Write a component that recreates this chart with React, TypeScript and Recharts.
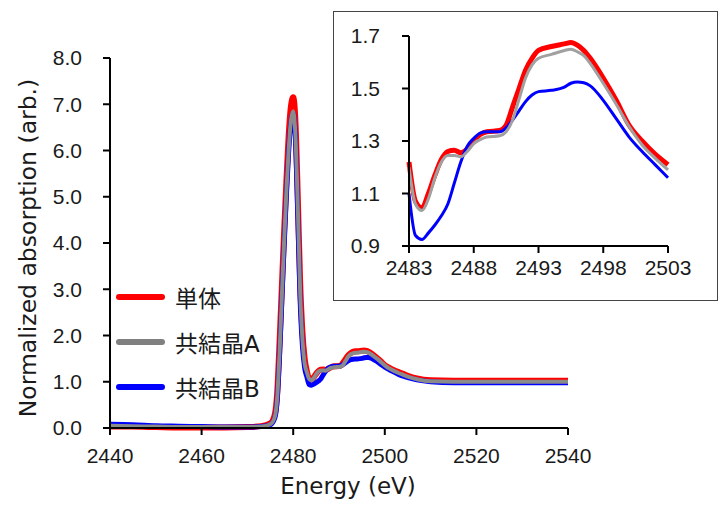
import { LineChart, Line, XAxis, YAxis } from 'recharts';

// energy grid (eV)
const energies = [
  2440, 2445, 2450, 2455, 2460, 2465, 2470, 2473, 2475,
  2476, 2476.5, 2477, 2477.5, 2478, 2478.5, 2479, 2479.5, 2480, 2480.5, 2481, 2481.5, 2482, 2482.5,
  2483, 2483.5, 2484, 2484.5, 2485, 2485.5, 2486, 2486.5, 2487, 2487.5, 2488, 2488.5, 2489,
  2490, 2490.5, 2491, 2491.5, 2492, 2492.5, 2493, 2494, 2495, 2495.5, 2496, 2496.5, 2497,
  2498, 2499, 2500, 2501, 2502, 2503, 2504, 2505, 2507, 2510,
  2515, 2520, 2525, 2530, 2535, 2540,
];

const tantai = [
  0.03, 0.03, 0.02, 0.01, 0.01, 0.01, 0.02, 0.04, 0.1,
  0.3, 0.75, 1.8, 3.0, 4.2, 5.3, 6.3, 6.95, 7.15, 6.6, 5.0, 3.2, 2.1, 1.5,
  1.22, 1.07, 1.045, 1.1, 1.17, 1.23, 1.26, 1.265, 1.255, 1.27, 1.3, 1.325, 1.335,
  1.34, 1.36, 1.43, 1.5, 1.57, 1.615, 1.645, 1.66, 1.67, 1.675, 1.665, 1.645, 1.615,
  1.54, 1.455, 1.36, 1.3, 1.25, 1.21, 1.17, 1.13, 1.07, 1.03,
  1.02, 1.02, 1.02, 1.02, 1.02, 1.02,
];

const kyoA = [
  0.05, 0.04, 0.03, 0.02, 0.02, 0.02, 0.02, 0.03, 0.08,
  0.25, 0.65, 1.6, 2.8, 4.0, 5.1, 6.0, 6.65, 6.85, 6.3, 4.8, 3.0, 1.95, 1.4,
  1.2, 1.06, 1.035, 1.08, 1.16, 1.22, 1.245, 1.245, 1.24, 1.26, 1.29, 1.305, 1.315,
  1.32, 1.335, 1.38, 1.46, 1.54, 1.59, 1.615, 1.63, 1.645, 1.65, 1.64, 1.625, 1.595,
  1.52, 1.44, 1.355, 1.285, 1.235, 1.19, 1.15, 1.11, 1.055, 1.01,
  1.0, 1.0, 1.0, 1.0, 1.0, 1.0,
];

const kyoB = [
  0.08, 0.07, 0.05, 0.04, 0.03, 0.02, 0.02, 0.03, 0.07,
  0.22, 0.6, 1.5, 2.7, 3.9, 5.0, 5.95, 6.6, 6.8, 6.2, 4.6, 2.8, 1.8, 1.3,
  1.1, 0.94, 0.925, 0.95, 0.98, 1.015, 1.06, 1.14, 1.22, 1.28, 1.31, 1.33, 1.335,
  1.335, 1.35, 1.38, 1.415, 1.45, 1.475, 1.488, 1.493, 1.505, 1.52, 1.525, 1.522, 1.51,
  1.455, 1.385, 1.315, 1.26, 1.21, 1.16, 1.12, 1.09, 1.04, 1.0,
  0.98, 0.98, 0.98, 0.98, 0.98, 0.98,
];

const mainXTicks = [2440, 2460, 2480, 2500, 2520, 2540];
const mainYTicks = [0, 1, 2, 3, 4, 5, 6, 7, 8];
const insetXTicks = [2483, 2488, 2493, 2498, 2503];
const insetYTicks = [0.9, 1.1, 1.3, 1.5, 1.7];

const series = [
  { key: 'tantai', name: '単体', color: '#FF0000' },
  { key: 'kyoA', name: '共結晶A', color: '#808080' },
  { key: 'kyoB', name: '共結晶B', color: '#0000FF' },
];

const data = energies.map((e, i) => ({ e, tantai: tantai[i], kyoA: kyoA[i], kyoB: kyoB[i] }));
const insetData = data.filter((d) => d.e >= 2483 && d.e <= 2503);

const tickStyle = { fontSize: 21, fill: '#1a1a1a', fontFamily: '"Liberation Sans", Arial, sans-serif' };
const axisStroke = { stroke: '#000', strokeWidth: 2 };
const titleFont = '"DejaVu Sans", "Noto Sans CJK JP", sans-serif';

function SeriesLegend() {
  return (
    <div style={{ position: 'absolute', left: 116, top: 274, fontFamily: titleFont, fontSize: 23, color: '#1a1a1a' }}>
      {series.map((s) => (
        <div key={s.key} style={{ display: 'flex', alignItems: 'center', height: 45 }}>
          <div style={{ width: 49, height: 6, borderRadius: 3, background: s.color, marginRight: 10 }} />
          <span>{s.name}</span>
        </div>
      ))}
    </div>
  );
}

export default function App() {
  return (
    <div style={{ position: 'absolute', left: 0, top: 0, width: 718, height: 509, background: '#fff' }}>
      <LineChart width={718} height={509} data={data} margin={{ top: 58, right: 150, bottom: 0, left: 0 }}>
        <XAxis
          type="number"
          dataKey="e"
          domain={[2440, 2540]}
          ticks={mainXTicks}
          interval={0}
          tick={tickStyle}
          tickSize={7}
          tickMargin={13}
          height={81}
          axisLine={axisStroke}
          tickLine={axisStroke}
          label={{
            content: ({ viewBox }: any) => (
              <text
                x={viewBox.x + viewBox.width / 2 + 9}
                y={viewBox.y + viewBox.height - 15}
                textAnchor="middle"
                fontSize={23}
                fontFamily={titleFont}
                fill="#1a1a1a"
              >
                Energy (eV)
              </text>
            ),
          }}
        />
        <YAxis
          type="number"
          domain={[0, 8]}
          ticks={mainYTicks}
          interval={0}
          tickFormatter={(v: number) => v.toFixed(1)}
          tick={tickStyle}
          tickSize={7}
          tickMargin={21}
          width={110}
          axisLine={axisStroke}
          tickLine={axisStroke}
          label={{
            content: ({ viewBox }: any) => {
              const cx = 28;
              const cy = viewBox.y + viewBox.height / 2 + 5;
              return (
                <text
                  x={cx}
                  y={cy}
                  transform={`rotate(-90 ${cx} ${cy})`}
                  textAnchor="middle"
                  dominantBaseline="central"
                  fontSize={23.5}
                  fontFamily={titleFont}
                  fill="#1a1a1a"
                >
                  Normalized absorption (arb.)
                </text>
              );
            },
          }}
        />
        <Line type="monotone" dataKey="tantai" name="単体" stroke="#FF0000" strokeWidth={6} dot={false} isAnimationActive={false} />
        <Line type="monotone" dataKey="kyoB" name="共結晶B" stroke="#0000FF" strokeWidth={5} dot={false} isAnimationActive={false} />
        <Line type="monotone" dataKey="kyoA" name="共結晶A" stroke="#8a8a8a" strokeWidth={4} dot={false} isAnimationActive={false} />
      </LineChart>

      <SeriesLegend />

      <div
        style={{
          position: 'absolute',
          left: 333,
          top: 11,
          width: 385,
          height: 290,
          boxSizing: 'border-box',
          border: '1px solid #444',
          background: '#fff',
        }}
      />
      <div style={{ position: 'absolute', left: 333, top: 11 }}>
        <LineChart width={385} height={290} data={insetData} margin={{ top: 25, right: 50, bottom: 0, left: 0 }}>
          <XAxis
            type="number"
            dataKey="e"
            domain={[2483, 2503]}
            ticks={insetXTicks}
            interval={0}
            tick={tickStyle}
            tickSize={7}
            tickMargin={7}
            height={55}
            axisLine={axisStroke}
            tickLine={axisStroke}
          />
          <YAxis
            type="number"
            domain={[0.9, 1.7]}
            ticks={insetYTicks}
            interval={0}
            tickFormatter={(v: number) => v.toFixed(1)}
            tick={tickStyle}
            tickSize={7}
            tickMargin={22}
            width={76}
            axisLine={axisStroke}
            tickLine={axisStroke}
          />
          <Line type="monotone" dataKey="tantai" stroke="#FF0000" strokeWidth={5} dot={false} isAnimationActive={false} />
          <Line type="monotone" dataKey="kyoB" stroke="#0000FF" strokeWidth={3} dot={false} isAnimationActive={false} />
          <Line type="monotone" dataKey="kyoA" stroke="#A0A0A0" strokeWidth={3} dot={false} isAnimationActive={false} />
        </LineChart>
      </div>
    </div>
  );
}
